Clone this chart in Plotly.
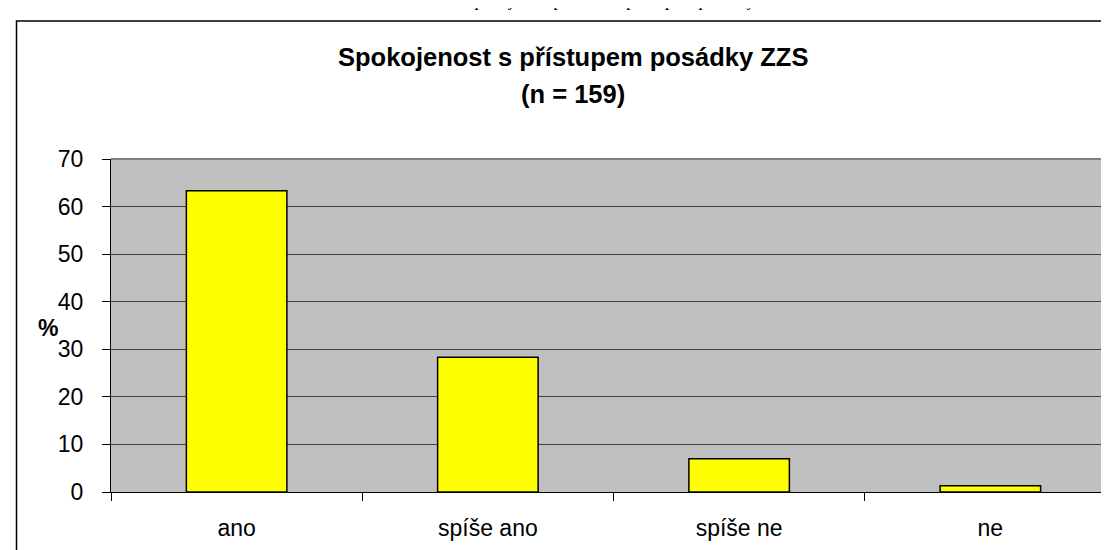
import plotly.graph_objects as go

categories = ["ano", "spíše ano", "spíše ne", "ne"]
values = [63.3, 28.3, 7.0, 1.3]
y_ticks = [0, 10, 20, 30, 40, 50, 60, 70]

title_line1 = "Spokojenost s přístupem posádky ZZS"
title_line2 = "(n = 159)"
y_title = "%"
caption = "Graf 9 Spokojenost pacientů s přístupem posádky ZZS"

W, H = 1109, 550
L, R, T, B = 103, 1, 151, 66
PW = W - L - R
PH = H - T - B


def px_x(x):
    return (x - L) / PW


def px_y(y):
    return (H - B - y) / PH


FONT = "Liberation Sans, Arial, sans-serif"

fig = go.Figure(
    go.Bar(
        x=categories,
        y=values,
        marker=dict(color="#FFFF00", line=dict(color="#000000", width=1.5)),
        width=0.4,
        hoverinfo="x+y",
    )
)

fig.update_layout(
    width=W,
    height=H,
    margin=dict(l=L, r=R, t=T, b=B, autoexpand=False),
    paper_bgcolor="white",
    plot_bgcolor="#C0C0C0",
    showlegend=False,
    font=dict(family=FONT, size=23, color="#000000"),
)

fig.update_xaxes(
    type="category",
    range=[-0.5, 3.5],
    showgrid=False,
    showline=True,
    linecolor="#000000",
    linewidth=1,
    ticks="outside",
    tickson="boundaries",
    ticklen=8,
    tickcolor="#000000",
    tickwidth=1,
    ticklabelstandoff=15,
    tickfont=dict(family=FONT, size=23, color="#000000"),
)

fig.update_yaxes(
    range=[0, 70],
    tickvals=y_ticks,
    showgrid=True,
    gridcolor="#404040",
    gridwidth=1,
    showline=True,
    linecolor="#000000",
    linewidth=1,
    ticks="outside",
    ticklen=8,
    tickcolor="#000000",
    tickwidth=1,
    ticklabelstandoff=14,
    tickfont=dict(family=FONT, size=23, color="#000000"),
    zeroline=False,
)

shapes = [
    # plot frame top/right (gray)
    dict(type="line", xref="paper", yref="paper", x0=0, x1=1, y0=1, y1=1,
         line=dict(color="#808080", width=2)),
    dict(type="line", xref="paper", yref="paper", x0=1, x1=1, y0=0, y1=1,
         line=dict(color="#808080", width=2)),
    # outer chart border
    dict(type="rect", xref="paper", yref="paper",
         x0=px_x(8.5), x1=px_x(1120), y0=px_y(600), y1=px_y(13),
         line=dict(color="#000000", width=1.5), fillcolor="rgba(0,0,0,0)",
         layer="below"),
]
fig.update_layout(shapes=shapes)

annotations = [
    dict(text="<b>" + title_line1 + "</b>", xref="paper", yref="paper",
         x=px_x(565), y=px_y(49), xanchor="center", yanchor="middle",
         showarrow=False, font=dict(family=FONT, size=25.5, color="#000000")),
    dict(text="<b>" + title_line2 + "</b>", xref="paper", yref="paper",
         x=px_x(565), y=px_y(86), xanchor="center", yanchor="middle",
         showarrow=False, font=dict(family=FONT, size=25.5, color="#000000")),
    dict(text="<b>" + y_title + "</b>", xref="paper", yref="paper",
         x=px_x(40), y=px_y(320), xanchor="center", yanchor="middle",
         showarrow=False, font=dict(family=FONT, size=23, color="#000000")),
    dict(text=caption, xref="paper", yref="paper",
         x=px_x(595), y=px_y(3), xanchor="center", yanchor="bottom",
         borderpad=0, showarrow=False,
         font=dict(family="Liberation Serif, Times New Roman, serif", size=17,
                   color="#000000")),
]
fig.update_layout(annotations=annotations)

fig.write_html("out.html")
